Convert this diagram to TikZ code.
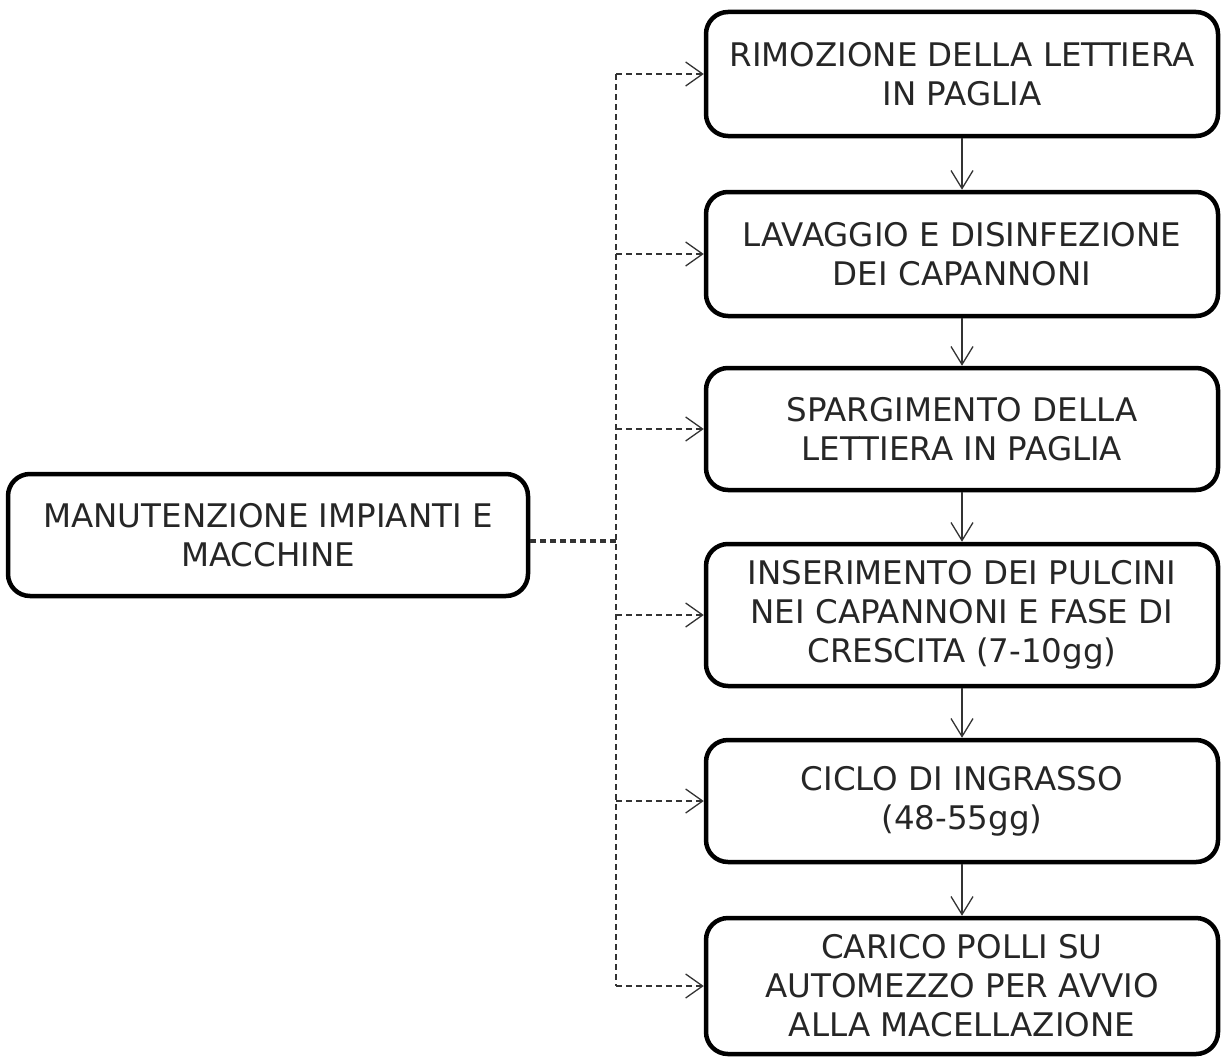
\documentclass[tikz,border=0pt]{standalone}
\usepackage{fontspec}
\setmainfont{DejaVu Sans}
\usetikzlibrary{arrows.meta}

\tikzset{
    stepbox/.style={draw, line width=4.5pt, rounded corners=22pt, align=center,
        minimum width=512pt, inner sep=0pt, text=black!85,
        font={\fontsize{32.5}{39}\selectfont}},
    flow/.style={draw=black!80, line width=1.3pt, -{Straight Barb[length=18pt,width=22pt]}},
    branch/.style={draw=black!80, line width=1.3pt, dash pattern=on 6pt off 4pt,
        -{Straight Barb[length=17pt,width=24pt]}},
    trunk/.style={draw=black!80, line width=1.3pt, dash pattern=on 6pt off 4pt},
}

\begin{document}
\begin{tikzpicture}[x=1pt, y=-1pt]
    \useasboundingbox (0,0) rectangle (1222,1057);

    % fasi del ciclo
    \node[stepbox, minimum height=124pt] (r1) at (962,74) {RIMOZIONE DELLA LETTIERA\\IN PAGLIA};
    \node[stepbox, minimum height=124pt] (r2) at (962,254) {LAVAGGIO E DISINFEZIONE\\DEI CAPANNONI};
    \node[stepbox, minimum height=122pt] (r3) at (962,429) {SPARGIMENTO DELLA\\LETTIERA IN PAGLIA};
    \node[stepbox, minimum height=142pt] (r4) at (962,615) {INSERIMENTO DEI PULCINI\\NEI CAPANNONI E FASE DI\\CRESCITA (7-10gg)};
    \node[stepbox, minimum height=122pt] (r5) at (962,801) {CICLO DI INGRASSO\\(48-55gg)};
    \node[stepbox, minimum height=136pt] (r6) at (962,986) {CARICO POLLI SU\\AUTOMEZZO PER AVVIO\\ALLA MACELLAZIONE};

    % manutenzione
    \node[stepbox, minimum width=520pt, minimum height=122pt] (mnt) at (268,535) {MANUTENZIONE IMPIANTI E\\MACCHINE};
    \coordinate (t) at (616,541);

    \foreach \a/\b in {r1/r2, r2/r3, r3/r4, r4/r5, r5/r6}
        \draw[flow] (\a) -- (\b);

    \draw[trunk] (t |- r1.west) -- (t |- r6.west);
    \draw[trunk, line width=3.5pt] (mnt.east |- t) -- (t);
    \foreach \r in {r1, r2, r3, r4, r5, r6}
        \draw[branch] (t |- \r.west) -- (\r.west);
\end{tikzpicture}
\end{document}
